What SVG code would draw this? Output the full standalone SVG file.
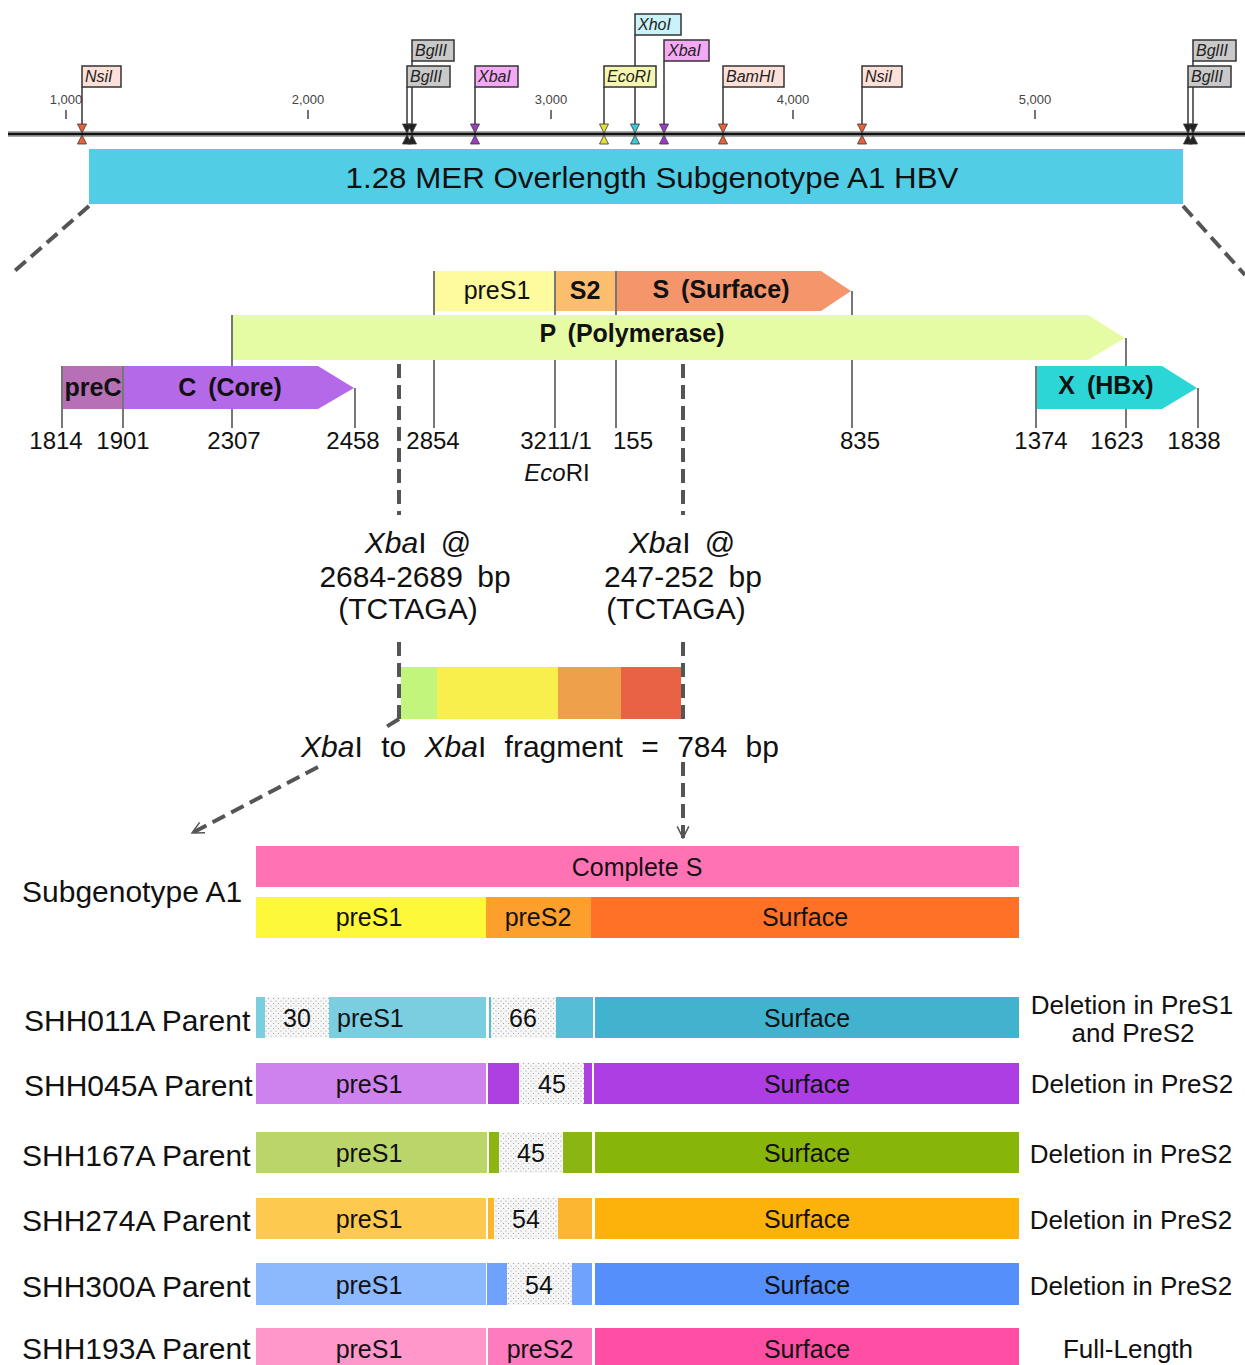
<svg xmlns="http://www.w3.org/2000/svg" width="1245" height="1365" viewBox="0 0 1245 1365">
<style>
text{font-family:"Liberation Sans",Arial,sans-serif;fill:#111}
.tick{font-size:13px;fill:#444;text-anchor:middle}
.site{font-size:16px;font-style:italic;fill:#222}
.sbox{stroke:#333;stroke-width:1.5}
.stem{stroke:#333;stroke-width:1.5}
.mk{stroke:#333;stroke-width:0.8}
.gene{font-size:25px;font-weight:bold;text-anchor:middle;word-spacing:5px}
.gl{stroke:#777;stroke-width:2}
.num{font-size:24px;text-anchor:middle}
.mid{font-size:30px;text-anchor:middle;word-spacing:6px}
.dash{stroke:#555;stroke-width:4;stroke-dasharray:14 7;fill:none}
.bar{font-size:25px;text-anchor:middle}
.lab{font-size:30px}
.rl{font-size:26px;text-anchor:middle}
</style>
<defs>
<pattern id="dots" width="5" height="5" patternUnits="userSpaceOnUse"><rect width="5" height="5" fill="#f7f7f7"/><circle cx="1" cy="1" r="0.6" fill="#999"/><circle cx="3.5" cy="3.5" r="0.6" fill="#999"/></pattern>
<marker id="arr" viewBox="0 0 12 12" refX="11" refY="6" markerWidth="14" markerHeight="14" markerUnits="userSpaceOnUse" orient="auto"><path d="M1,1 L11,6 L1,11" fill="none" stroke="#555" stroke-width="1.3"/></marker>
<g id="bowtie"><path class="mk" d="M-4.5,-10 L4.5,-10 L0,-1 Z"/><path class="mk" d="M-4.5,10 L4.5,10 L0,1 Z"/></g>
</defs>
<rect width="1245" height="1365" fill="#fff"/>

<!-- ruler -->
<g id="ruler">
<rect x="8" y="131" width="1237" height="6" fill="#aaa"/>
<line x1="8" y1="134" x2="1245" y2="134" stroke="#111" stroke-width="2.5"/>
<g stroke="#444" stroke-width="1.5"><line x1="66" y1="110" x2="66" y2="119"/><line x1="308" y1="110" x2="308" y2="119"/><line x1="551" y1="110" x2="551" y2="119"/><line x1="793" y1="110" x2="793" y2="119"/><line x1="1035" y1="110" x2="1035" y2="119"/></g>
<text class="tick" x="66" y="104">1,000</text><text class="tick" x="308" y="104">2,000</text><text class="tick" x="551" y="104">3,000</text><text class="tick" x="793" y="104">4,000</text><text class="tick" x="1035" y="104">5,000</text>
</g>

<g id="sites">
<g class="stem"><line x1="82" y1="87" x2="82" y2="124"/><line x1="407" y1="87" x2="407" y2="124"/><line x1="412" y1="61" x2="412" y2="124"/><line x1="475" y1="87" x2="475" y2="124"/><line x1="604" y1="87" x2="604" y2="124"/><line x1="635" y1="35" x2="635" y2="124"/><line x1="664" y1="61" x2="664" y2="124"/><line x1="723" y1="87" x2="723" y2="124"/><line x1="862" y1="87" x2="862" y2="124"/><line x1="1188" y1="87" x2="1188" y2="124"/><line x1="1193" y1="61" x2="1193" y2="124"/></g>
<g id="site-nsi1"><rect class="sbox" x="82" y="66" width="39" height="21" fill="#fde0d8"/><text class="site" x="85" y="82">NsiI</text><use href="#bowtie" x="82" y="134" fill="#e8633c"/></g>
<g id="site-bgl1"><rect class="sbox" x="412" y="40" width="42" height="21" fill="#c9c9c9"/><text class="site" x="415" y="56">BglII</text><rect class="sbox" x="407" y="66" width="43" height="21" fill="#c9c9c9"/><text class="site" x="410" y="82">BglII</text><use href="#bowtie" x="407" y="134" fill="#222"/><use href="#bowtie" x="412" y="134" fill="#222"/></g>
<g id="site-xba1"><rect class="sbox" x="475" y="66" width="43" height="21" fill="#f3a9f3"/><text class="site" x="478" y="82">XbaI</text><use href="#bowtie" x="475" y="134" fill="#9c3cc8"/></g>
<g id="site-eco"><rect class="sbox" x="604" y="66" width="52" height="21" fill="#f5f6b0"/><text class="site" x="607" y="82">EcoRI</text><use href="#bowtie" x="604" y="134" fill="#e8e03a"/></g>
<g id="site-xho"><rect class="sbox" x="635" y="14" width="46" height="21" fill="#c9f3f8"/><text class="site" x="638" y="30">XhoI</text><use href="#bowtie" x="635" y="134" fill="#3cc8dc"/></g>
<g id="site-xba2"><rect class="sbox" x="664" y="40" width="45" height="21" fill="#f3a9f3"/><text class="site" x="668" y="56">XbaI</text><use href="#bowtie" x="664" y="134" fill="#9c3cc8"/></g>
<g id="site-bam"><rect class="sbox" x="723" y="66" width="61" height="21" fill="#fde0d8"/><text class="site" x="726" y="82">BamHI</text><use href="#bowtie" x="723" y="134" fill="#e8633c"/></g>
<g id="site-nsi2"><rect class="sbox" x="862" y="66" width="40" height="21" fill="#fde0d8"/><text class="site" x="865" y="82">NsiI</text><use href="#bowtie" x="862" y="134" fill="#e8633c"/></g>
<g id="site-bgl2"><rect class="sbox" x="1193" y="40" width="43" height="21" fill="#c9c9c9"/><text class="site" x="1196" y="56">BglII</text><rect class="sbox" x="1188" y="66" width="43" height="21" fill="#c9c9c9"/><text class="site" x="1191" y="82">BglII</text><use href="#bowtie" x="1188" y="134" fill="#222"/><use href="#bowtie" x="1193" y="134" fill="#222"/></g>
</g>

<g id="genome-bar">
<rect x="89" y="149" width="1094" height="55" fill="#52cde6"/>
<text x="652" y="188" font-size="30" text-anchor="middle" textLength="613" lengthAdjust="spacingAndGlyphs">1.28 MER Overlength Subgenotype A1 HBV</text>
</g>

<g id="connectors">
<line class="dash" x1="89" y1="206" x2="10" y2="275"/>
<line class="dash" x1="1183" y1="206" x2="1245" y2="275"/>
<line class="dash" x1="399" y1="364" x2="399" y2="515"/>
<line class="dash" x1="683" y1="364" x2="683" y2="515"/>
<line class="dash" x1="399" y1="642" x2="399" y2="719"/>
<line class="dash" x1="683" y1="642" x2="683" y2="719"/>
<line class="dash" x1="399" y1="719" x2="386" y2="727"/>
<line class="dash" x1="318" y1="767" x2="192" y2="833" marker-end="url(#arr)"/>
<line class="dash" x1="683" y1="762" x2="683" y2="838" marker-end="url(#arr)"/>
</g>

<g id="gene-lines" class="gl">
<line x1="62" y1="366" x2="62" y2="428"/><line x1="123" y1="366" x2="123" y2="428"/><line x1="232" y1="315" x2="232" y2="428"/><line x1="355" y1="388" x2="355" y2="428"/><line x1="434" y1="271" x2="434" y2="428"/><line x1="555" y1="271" x2="555" y2="428"/><line x1="616" y1="271" x2="616" y2="428"/><line x1="852" y1="291" x2="852" y2="428"/><line x1="1126" y1="338" x2="1126" y2="428"/><line x1="1036" y1="366" x2="1036" y2="428"/><line x1="1198" y1="388" x2="1198" y2="428"/>
</g>

<g id="gene-P"><polygon points="233,315 1088,315 1125,338 1088,360 233,360" fill="#e6fca4"/><text class="gene" x="632" y="342">P (Polymerase)</text></g>
<g id="gene-preS1"><rect x="435" y="271" width="119" height="40" fill="#fefa9e"/><text class="gene" x="497" y="299" style="font-weight:normal">preS1</text></g>
<g id="gene-S2"><rect x="556" y="271" width="59" height="40" fill="#fbbe6e"/><text class="gene" x="585" y="299">S2</text></g>
<g id="gene-S"><polygon points="617,271 821,271 851,291 821,311 617,311" fill="#f5956b"/><text class="gene" x="721" y="298">S (Surface)</text></g>
<g id="gene-preC"><rect x="63" y="366" width="59" height="43" fill="#b770b5"/><text class="gene" x="93" y="396">preC</text></g>
<g id="gene-C"><polygon points="124,366 318,366 354,388 318,409 124,409" fill="#b46ae8"/><text class="gene" x="230" y="396">C (Core)</text></g>
<g id="gene-X"><polygon points="1037,366 1162,366 1197,388 1162,409 1037,409" fill="#2dd6d6"/><text class="gene" x="1106" y="394">X (HBx)</text></g>

<g id="positions">
<text class="num" x="56" y="449">1814</text><text class="num" x="123" y="449">1901</text><text class="num" x="234" y="449">2307</text><text class="num" x="353" y="449">2458</text><text class="num" x="433" y="449">2854</text><text class="num" x="556" y="449">3211/1</text><text class="num" x="633" y="449">155</text><text class="num" x="860" y="449">835</text><text class="num" x="1041" y="449">1374</text><text class="num" x="1117" y="449">1623</text><text class="num" x="1194" y="449">1838</text>
<text class="num" x="557" y="481"><tspan font-style="italic">Eco</tspan>RI</text>
</g>

<g id="xba-left">
<text class="mid" x="418" y="553"><tspan font-style="italic">Xba</tspan>I @</text>
<text class="mid" x="415" y="587">2684-2689 bp</text>
<text class="mid" x="408" y="619">(TCTAGA)</text>
</g>
<g id="xba-right">
<text class="mid" x="682" y="553"><tspan font-style="italic">Xba</tspan>I @</text>
<text class="mid" x="683" y="587">247-252 bp</text>
<text class="mid" x="676" y="619">(TCTAGA)</text>
</g>

<g id="fragment">
<rect x="401" y="667" width="37" height="52" fill="#c2f57c"/>
<rect x="437" y="667" width="122" height="52" fill="#f8ef4c"/>
<rect x="558" y="667" width="64" height="52" fill="#eea04a"/>
<rect x="621" y="667" width="60" height="52" fill="#e96245"/>
<text class="mid" x="540" y="757" style="word-spacing:10px"><tspan font-style="italic">Xba</tspan>I to <tspan font-style="italic">Xba</tspan>I fragment  = 784 bp</text>
</g>

<g id="subgenotype-A1">
<text class="lab" x="22" y="902">Subgenotype A1</text>
<rect x="256" y="846" width="763" height="41" fill="#ff73b5"/>
<text class="bar" x="637" y="876">Complete S</text>
<rect x="256" y="897" width="231" height="41" fill="#fdf83a"/>
<rect x="486" y="897" width="106" height="41" fill="#fd9f2c"/>
<rect x="591" y="897" width="428" height="41" fill="#fe7127"/>
<text class="bar" x="369" y="926">preS1</text><text class="bar" x="538" y="926">preS2</text><text class="bar" x="805" y="926">Surface</text>
</g>

<g id="row-SHH011A">
<text class="lab" x="24" y="1031">SHH011A Parent</text>
<rect x="256" y="997" width="9" height="41" fill="#7bcde0"/>
<rect x="265" y="997" width="64" height="41" fill="url(#dots)"/>
<rect x="329" y="997" width="157" height="41" fill="#7bcde0"/>
<rect x="489" y="997" width="2" height="41" fill="#55bdd5"/>
<rect x="491" y="997" width="65" height="41" fill="url(#dots)"/>
<rect x="556" y="997" width="37" height="41" fill="#55bdd5"/>
<rect x="595" y="997" width="424" height="41" fill="#41b3cf"/>
<text class="bar" x="297" y="1027">30</text><text class="bar" x="337" y="1027" style="text-anchor:start">preS1</text><text class="bar" x="523" y="1027">66</text><text class="bar" x="807" y="1027">Surface</text>
<text class="rl" x="1132" y="1014">Deletion in PreS1</text><text class="rl" x="1133" y="1042">and PreS2</text>
</g>

<g id="row-SHH045A">
<text class="lab" x="24" y="1096">SHH045A Parent</text>
<rect x="256" y="1063" width="230" height="41" fill="#ce82ee"/>
<rect x="488" y="1063" width="31" height="41" fill="#ae40e2"/>
<rect x="519" y="1063" width="65" height="41" fill="url(#dots)"/>
<rect x="584" y="1063" width="8" height="41" fill="#ae40e2"/>
<rect x="594" y="1063" width="425" height="41" fill="#ad3ee3"/>
<text class="bar" x="369" y="1093">preS1</text><text class="bar" x="552" y="1093">45</text><text class="bar" x="807" y="1093">Surface</text>
<text class="rl" x="1132" y="1093">Deletion in PreS2</text>
</g>

<g id="row-SHH167A">
<text class="lab" x="22" y="1166">SHH167A Parent</text>
<rect x="256" y="1132" width="231" height="41" fill="#bad66a"/>
<rect x="489" y="1132" width="10" height="41" fill="#8ab512"/>
<rect x="499" y="1132" width="64" height="41" fill="url(#dots)"/>
<rect x="563" y="1132" width="29" height="41" fill="#8ab512"/>
<rect x="595" y="1132" width="424" height="41" fill="#88b50a"/>
<text class="bar" x="369" y="1162">preS1</text><text class="bar" x="531" y="1162">45</text><text class="bar" x="807" y="1162">Surface</text>
<text class="rl" x="1131" y="1163">Deletion in PreS2</text>
</g>

<g id="row-SHH274A">
<text class="lab" x="22" y="1231">SHH274A Parent</text>
<rect x="256" y="1198" width="230" height="41" fill="#fdc94f"/>
<rect x="488" y="1198" width="6" height="41" fill="#fdb52e"/>
<rect x="494" y="1198" width="64" height="41" fill="url(#dots)"/>
<rect x="558" y="1198" width="34" height="41" fill="#fdb632"/>
<rect x="595" y="1198" width="424" height="41" fill="#fdb10b"/>
<text class="bar" x="369" y="1228">preS1</text><text class="bar" x="526" y="1228">54</text><text class="bar" x="807" y="1228">Surface</text>
<text class="rl" x="1131" y="1229">Deletion in PreS2</text>
</g>

<g id="row-SHH300A">
<text class="lab" x="22" y="1297">SHH300A Parent</text>
<rect x="256" y="1263" width="230" height="42" fill="#8cb8fd"/>
<rect x="487" y="1263" width="20" height="42" fill="#6ea2fd"/>
<rect x="507" y="1263" width="65" height="42" fill="url(#dots)"/>
<rect x="572" y="1263" width="20" height="42" fill="#6ea2fd"/>
<rect x="595" y="1263" width="424" height="42" fill="#548ffc"/>
<text class="bar" x="369" y="1294">preS1</text><text class="bar" x="539" y="1294">54</text><text class="bar" x="807" y="1294">Surface</text>
<text class="rl" x="1131" y="1295">Deletion in PreS2</text>
</g>

<g id="row-SHH193A">
<text class="lab" x="22" y="1359">SHH193A Parent</text>
<rect x="256" y="1328" width="230" height="42" fill="#ff97cb"/>
<rect x="488" y="1328" width="104" height="42" fill="#ff7bbf"/>
<rect x="595" y="1328" width="424" height="42" fill="#ff4fa4"/>
<text class="bar" x="369" y="1358">preS1</text><text class="bar" x="540" y="1358">preS2</text><text class="bar" x="807" y="1358">Surface</text>
<text class="rl" x="1128" y="1358">Full-Length</text>
</g>
</svg>
